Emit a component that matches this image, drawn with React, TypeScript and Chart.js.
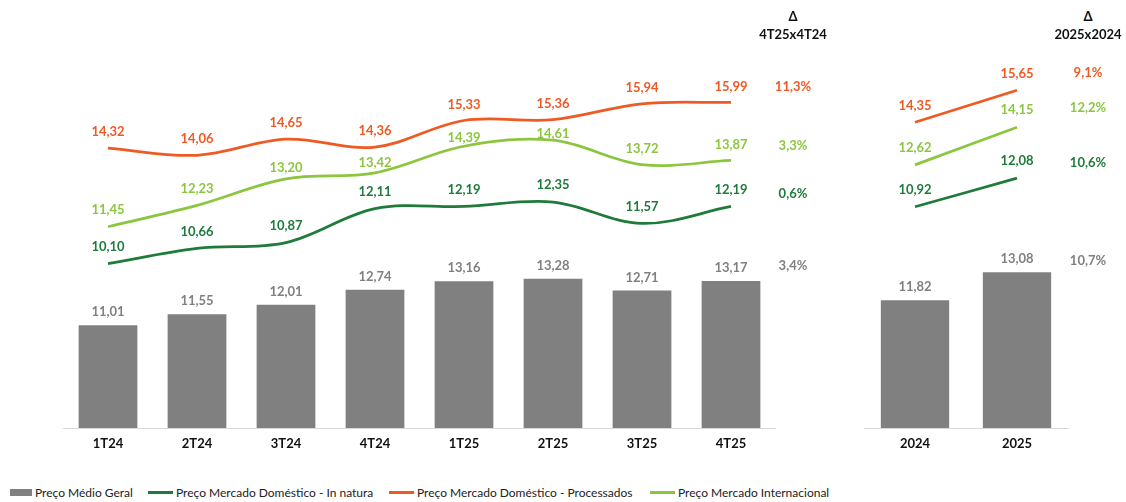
import React, { useEffect, useRef } from "react";
import { Chart, registerables } from "chart.js";

Chart.register(...registerables);

const categoriesQ = ["1T24", "2T24", "3T24", "4T24", "1T25", "2T25", "3T25", "4T25"];
const precoMedioQ = [11.01, 11.55, 12.01, 12.74, 13.16, 13.28, 12.71, 13.17];
const inNaturaQ = [10.1, 10.66, 10.87, 12.11, 12.19, 12.35, 11.57, 12.19];
const processadosQ = [14.32, 14.06, 14.65, 14.36, 15.33, 15.36, 15.94, 15.99];
const internacionalQ = [11.45, 12.23, 13.2, 13.42, 14.39, 14.61, 13.72, 13.87];

const categoriesY = ["2024", "2025"];
const precoMedioY = [11.82, 13.08];
const inNaturaY = [10.92, 12.08];
const processadosY = [14.35, 15.65];
const internacionalY = [12.62, 14.15];

const deltaQHeader = ["Δ", "4T25x4T24"];
const deltaQ = { processados: "11,3%", internacional: "3,3%", inNatura: "0,6%", medio: "3,4%" };
const deltaYHeader = ["Δ", "2025x2024"];
const deltaY = { processados: "9,1%", internacional: "12,2%", inNatura: "10,6%", medio: "10,7%" };

const legendLabels = [
  "Preço Médio Geral",
  "Preço Mercado Doméstico - In natura",
  "Preço Mercado Doméstico - Processados",
  "Preço Mercado Internacional",
];

const GRAY = "#808080";
const DARK = "#1E7B3A";
const ORANGE = "#EE5A24";
const LIGHT = "#8CC63F";
const FONT = "Lato, 'Open Sans', sans-serif";

const fmt = (v: number) => v.toFixed(2).replace(".", ",");

const labelPlugin = {
  id: "valueLabels",
  afterDatasetsDraw(chart: any) {
    const ctx = chart.ctx;
    ctx.save();
    ctx.font = `bold 13px ${FONT}`;
    ctx.textAlign = "center";
    ctx.textBaseline = "middle";
    chart.data.datasets.forEach((ds: any, i: number) => {
      const meta = chart.getDatasetMeta(i);
      meta.data.forEach((el: any, j: number) => {
        const off = Array.isArray(ds.labelOffset) ? ds.labelOffset[j] : ds.labelOffset;
        ctx.fillStyle = ds.labelColor;
        ctx.fillText(fmt(ds.data[j]), el.x, el.y - off);
      });
    });
    ctx.restore();
  },
};

function makeConfig(
  labels: string[],
  medio: number[],
  natura: number[],
  proc: number[],
  intl: number[],
  yRange: [number, number],
  y1Range: [number, number],
  padL: number,
  padR: number,
  barPct: number,
  lightOffsets: number[] | number
): any {
  const lineBase = { type: "line", borderWidth: 2.75, pointRadius: 0, tension: 0.35, yAxisID: "y1", order: 1 };
  return {
    type: "bar",
    data: {
      labels,
      datasets: [
        {
          type: "bar",
          data: medio,
          backgroundColor: GRAY,
          yAxisID: "y",
          order: 5,
          barPercentage: barPct,
          categoryPercentage: 1,
          labelColor: GRAY,
          labelOffset: 13,
        },
        { ...lineBase, data: natura, borderColor: DARK, labelColor: DARK, labelOffset: 17 },
        { ...lineBase, data: proc, borderColor: ORANGE, labelColor: ORANGE, labelOffset: 16 },
        { ...lineBase, data: intl, borderColor: LIGHT, labelColor: LIGHT, labelOffset: lightOffsets },
      ],
    },
    options: {
      responsive: false,
      maintainAspectRatio: false,
      animation: false,
      devicePixelRatio: 1,
      layout: { padding: { left: padL, right: padR, top: 20, bottom: 0 } },
      plugins: { legend: { display: false }, tooltip: { enabled: false } },
      scales: {
        x: {
          grid: { display: false, drawTicks: false },
          border: { display: true, color: "#D9D9D9", width: 1 },
          ticks: { color: "#111", font: { family: FONT, size: 13, weight: "bold" }, padding: 8 },
          afterFit: (s: any) => {
            s.height = 42;
          },
        },
        y: { display: false, min: yRange[0], max: yRange[1] },
        y1: { display: false, min: y1Range[0], max: y1Range[1], position: "right" },
      },
    },
    plugins: [labelPlugin],
  };
}

function ChartCanvas(props: { config: any; left: number; width: number; height: number }) {
  const ref = useRef<HTMLCanvasElement | null>(null);
  useEffect(() => {
    if (!ref.current) return;
    const chart = new Chart(ref.current, props.config);
    return () => chart.destroy();
  }, []);
  return (
    <canvas
      ref={ref}
      width={props.width}
      height={props.height}
      style={{ position: "absolute", left: props.left, top: 0, width: props.width, height: props.height }}
    />
  );
}

function Txt(props: { x: number; y: number; color: string; children: any }) {
  return (
    <div
      style={{
        position: "absolute",
        left: props.x,
        top: props.y,
        transform: "translate(-50%, -50%)",
        color: props.color,
        fontFamily: FONT,
        fontSize: 13,
        fontWeight: "bold",
        whiteSpace: "nowrap",
        lineHeight: "16px",
      }}
    >
      {props.children}
    </div>
  );
}

export default function App() {
  const leftCfg = makeConfig(
    categoriesQ,
    precoMedioQ,
    inNaturaQ,
    processadosQ,
    internacionalQ,
    [6, 25.9],
    [4.1, 19.0],
    63.5,
    14.5,
    0.66,
    [17, 17, 11, 10, 8, 6, 16, 16]
  );
  const rightCfg = makeConfig(
    categoriesY,
    precoMedioY,
    inNaturaY,
    processadosY,
    internacionalY,
    [6.06, 24.44],
    [1.94, 18.5],
    14,
    14,
    0.67,
    17
  );

  const legendItem = (x: number, color: string, label: string, box: boolean) => (
    <div
      key={label}
      style={{
        position: "absolute",
        left: x,
        top: 484,
        height: 16,
        display: "flex",
        alignItems: "center",
        fontFamily: FONT,
        fontSize: 12,
        color: "#222",
        whiteSpace: "nowrap",
      }}
    >
      <span
        style={{
          display: "inline-block",
          width: box ? 22 : 25,
          height: box ? 7 : 3,
          background: color,
          marginRight: 3,
        }}
      />
      {label}
    </div>
  );

  return (
    <div style={{ position: "absolute", left: 0, top: 0, width: 1126, height: 502, background: "#fff", overflow: "hidden" }}>
      <ChartCanvas config={leftCfg} left={0} width={790} height={470} />
      <ChartCanvas config={rightCfg} left={850} width={232} height={470} />

      <Txt x={793} y={16} color="#111">{deltaQHeader[0]}</Txt>
      <Txt x={793} y={34} color="#111">{deltaQHeader[1]}</Txt>
      <Txt x={793} y={86} color={ORANGE}>{deltaQ.processados}</Txt>
      <Txt x={793} y={145} color={LIGHT}>{deltaQ.internacional}</Txt>
      <Txt x={793} y={193} color={DARK}>{deltaQ.inNatura}</Txt>
      <Txt x={793} y={265} color={GRAY}>{deltaQ.medio}</Txt>

      <Txt x={1088} y={16} color="#111">{deltaYHeader[0]}</Txt>
      <Txt x={1088} y={34} color="#111">{deltaYHeader[1]}</Txt>
      <Txt x={1088} y={72} color={ORANGE}>{deltaY.processados}</Txt>
      <Txt x={1088} y={107} color={LIGHT}>{deltaY.internacional}</Txt>
      <Txt x={1088} y={162} color={DARK}>{deltaY.inNatura}</Txt>
      <Txt x={1088} y={260} color={GRAY}>{deltaY.medio}</Txt>

      {legendItem(10, GRAY, legendLabels[0], true)}
      {legendItem(148, DARK, legendLabels[1], false)}
      {legendItem(389, ORANGE, legendLabels[2], false)}
      {legendItem(650, LIGHT, legendLabels[3], false)}
    </div>
  );
}
